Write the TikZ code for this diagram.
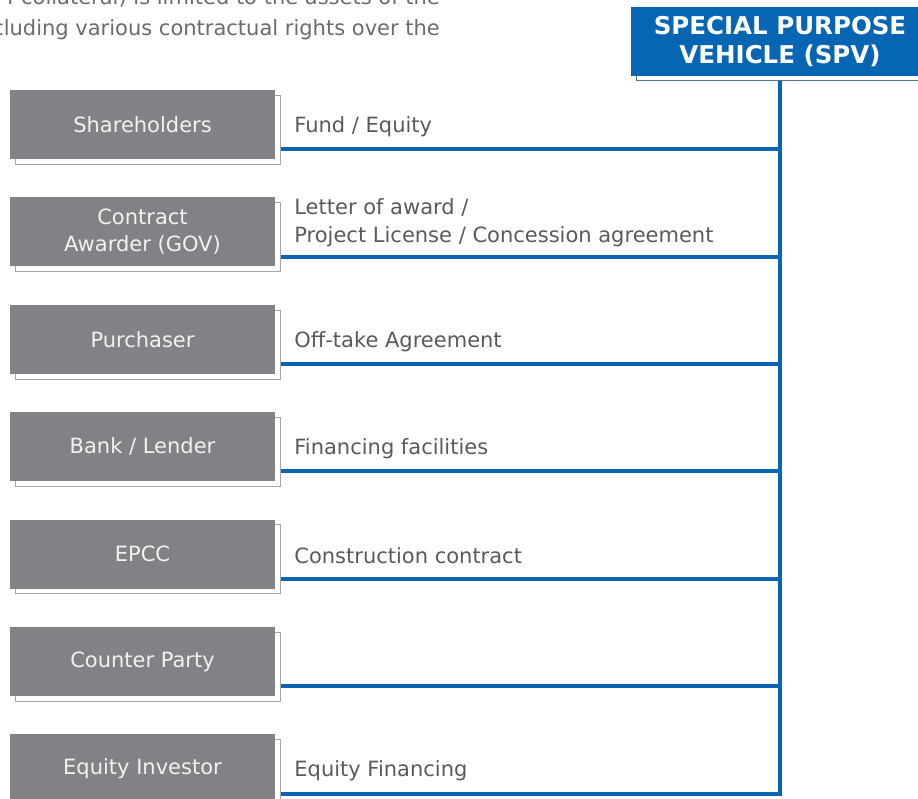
\documentclass[tikz,border=0pt]{standalone}
\usepackage{fontspec}
\setmainfont{DejaVu Sans}
\usetikzlibrary{positioning,shadows,backgrounds}

\definecolor{boxgray}{RGB}{128,130,133}
\definecolor{spvblue}{RGB}{6,102,180}
\definecolor{txtgray}{RGB}{90,90,92}

\tikzset{
  party/.style={fill=boxgray, text=white!95!black, minimum width=265pt, minimum height=69pt,
    inner sep=0pt, align=center, font=\fontsize{21}{27}\selectfont,
    general shadow={fill=white, draw=gray!70, thin, shadow xshift=5pt, shadow yshift=-5pt}},
  deal/.style={text=txtgray, align=left, inner sep=0pt, font=\fontsize{21}{28}\selectfont},
  link/.style={draw=spvblue, line width=4pt, line cap=rect}
}

\begin{document}
\begin{tikzpicture}[x=1pt,y=-1pt]
\useasboundingbox (0,0) rectangle (918,799);
\clip (0,0) rectangle (918,799);

% text cut from the page above
\node[anchor=base east, align=right, text=txtgray!90, inner sep=0pt, font=\fontsize{21}{31}\selectfont] (intro) at (440,36)
  {f collateral) is limited to the assets of the\\cluding various contractual rights over the};

% the SPV
\node[fill=spvblue, text=white, minimum width=298pt, minimum height=69pt, inner sep=0pt, align=center,
  font=\bfseries\fontsize{24.5}{29}\selectfont,
  general shadow={fill=white, draw=spvblue!40!gray, thin, shadow xshift=5pt, shadow yshift=-4pt}]
  (spv) at (780,41.5) {\raisebox{-2pt}{SPECIAL PURPOSE}\\\raisebox{-2pt}{VEHICLE (SPV)}};

% parties
\node[party] (sh) at (142.5,124.5) {Shareholders};
\node[party, below=38pt of sh] (gov) {Contract\\Awarder (GOV)};
\node[party, below=38pt of gov] (buyer) {Purchaser};
\node[party, below=38pt of buyer] (bank) {Bank / Lender};
\node[party, below=38pt of bank] (epcc) {EPCC};
\node[party, below=38pt of epcc] (cp) {Counter Party};
\node[party, below=38pt of cp] (inv) {Equity Investor};

% agreements
\node[deal, right=19pt of sh, yshift=-2pt] (sh-deal) {Fund / Equity};
\node[deal, right=19pt of gov, yshift=9pt] (gov-deal) {Letter of award /\\Project License / Concession agreement};
\node[deal, right=19pt of buyer, yshift=-2pt] (buyer-deal) {Off-take Agreement};
\node[deal, right=19pt of bank, yshift=-2pt] (bank-deal) {Financing facilities};
\node[deal, right=19pt of epcc, yshift=-2pt] (epcc-deal) {Construction contract};
\node[deal, right=19pt of inv, yshift=-2pt] (inv-deal) {Equity Financing};

% links to the SPV
\begin{scope}[on background layer]
\foreach \p in {sh,gov,buyer,bank,epcc,cp,inv}{
  \coordinate (\p-end) at ([yshift=10pt]\p.south east);
  \draw[link] (\p-end) -- (\p-end -| spv.south);
}
\draw[link] (spv.south) -- (inv-end -| spv.south);
\end{scope}
\end{tikzpicture}
\end{document}
